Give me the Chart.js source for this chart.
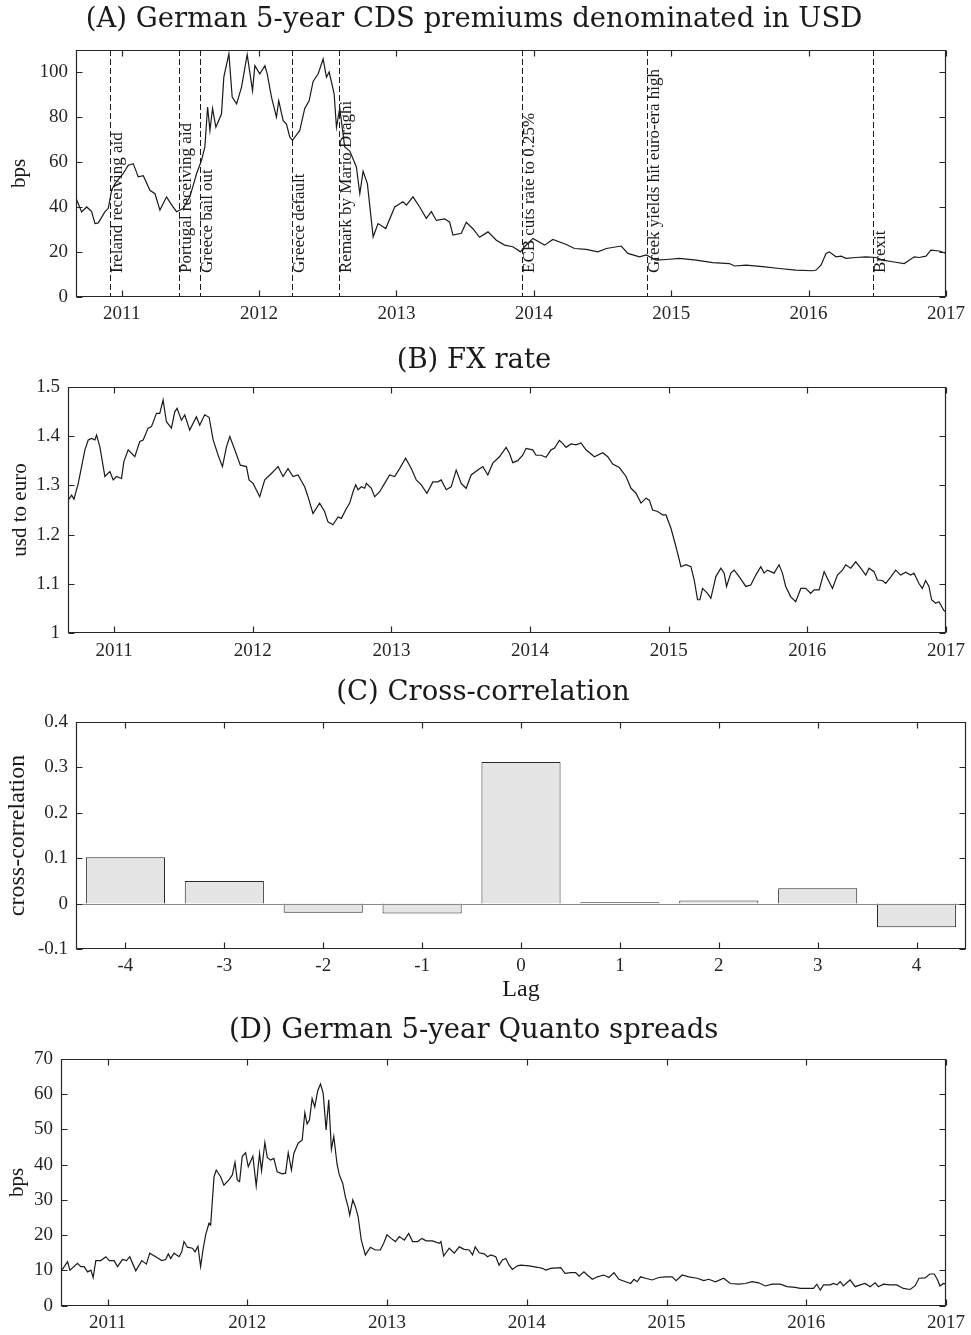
<!DOCTYPE html>
<html><head><meta charset="utf-8">
<script src="https://cdn.jsdelivr.net/npm/chart.js@4.4.1/dist/chart.umd.min.js"></script>
<style>
html,body{margin:0;padding:0;background:#fff}
body{width:971px;height:1335px;position:relative;overflow:hidden}
canvas{position:absolute;left:0}
</style></head><body>
<canvas id="cA" width="971" height="335" style="top:0px"></canvas>
<canvas id="cB" width="971" height="335" style="top:335px"></canvas>
<canvas id="cC" width="971" height="335" style="top:670px"></canvas>
<canvas id="cD" width="971" height="330" style="top:1005px"></canvas>
<script>
// ---------------- DATA ----------------
const cdsDates = [2010.667,2010.708,2010.745,2010.781,2010.805,2010.829,2010.878,2010.902,2010.926,2010.951,2011.011,2011.048,2011.084,2011.120,2011.157,2011.205,2011.242,2011.278,2011.326,2011.363,2011.399,2011.448,2011.496,2011.545,2011.581,2011.605,2011.625,2011.642,2011.661,2011.685,2011.726,2011.743,2011.780,2011.804,2011.836,2011.872,2011.913,2011.952,2011.969,2012.005,2012.042,2012.059,2012.090,2012.126,2012.143,2012.175,2012.199,2012.223,2012.243,2012.296,2012.332,2012.364,2012.393,2012.430,2012.466,2012.490,2012.510,2012.546,2012.563,2012.587,2012.623,2012.660,2012.708,2012.733,2012.757,2012.788,2012.830,2012.866,2012.922,2012.987,2013.047,2013.072,2013.120,2013.169,2013.217,2013.254,2013.290,2013.351,2013.387,2013.411,2013.472,2013.508,2013.556,2013.605,2013.666,2013.727,2013.787,2013.847,2013.903,2013.932,2013.993,2014.078,2014.138,2014.236,2014.296,2014.381,2014.466,2014.527,2014.636,2014.684,2014.769,2014.818,2014.890,2014.963,2015.060,2015.181,2015.302,2015.423,2015.460,2015.545,2015.665,2015.787,2015.908,2016.029,2016.054,2016.090,2016.127,2016.151,2016.199,2016.236,2016.272,2016.345,2016.418,2016.490,2016.538,2016.611,2016.696,2016.769,2016.805,2016.854,2016.890,2016.951,2017.000];
const cdsBps = [44.0,37.9,40.1,38.0,32.7,33.0,38.0,39.5,47.5,50.5,55.0,58.7,59.4,53.5,54.0,47.5,46.0,38.7,44.6,41.0,38.0,39.5,44.6,55.0,60.9,66.8,84.6,74.2,84.0,75.6,81.5,97.9,108.3,89.0,86.0,93.5,108.0,91.9,103.0,99.4,103.0,99.4,89.0,80.1,87.4,78.5,77.0,71.3,69.8,74.2,84.0,87.4,96.0,99.4,106.0,97.9,100.2,90.5,75.6,84.0,66.8,65.0,57.9,46.0,56.0,50.5,26.8,32.7,30.5,40.1,42.4,40.9,44.6,40.1,35.0,38.0,34.1,34.8,33.3,27.6,28.4,33.3,30.4,26.6,29.0,25.3,23.1,22.4,20.1,22.4,26.1,23.1,25.6,23.4,21.6,21.2,20.1,21.6,22.7,19.4,17.9,18.7,16.4,16.7,17.2,16.4,15.3,14.9,13.8,14.2,13.5,12.7,12.0,11.7,12.0,14.2,19.4,20.1,17.9,18.2,17.2,17.6,17.9,17.6,16.4,15.7,14.9,17.9,17.6,18.2,20.9,20.5,19.4];

const eventDates = [2010.913,2011.415,2011.567,2012.236,2012.580,2013.910,2014.820,2016.470];
const eventLabels = ['Ireland receiving aid','Portugal receiving aid','Greece bail out','Greece default','Remark by Mario Draghi','ECB cuts rate to 0.25%','Greek yields hit euro-era high','Brexit'];

const fxDates = [2010.669,2010.693,2010.710,2010.741,2010.789,2010.813,2010.837,2010.861,2010.873,2010.897,2010.933,2010.969,2010.993,2011.017,2011.053,2011.070,2011.101,2011.149,2011.185,2011.209,2011.245,2011.269,2011.305,2011.329,2011.353,2011.377,2011.413,2011.437,2011.454,2011.485,2011.509,2011.545,2011.593,2011.617,2011.653,2011.685,2011.714,2011.750,2011.781,2011.810,2011.834,2011.870,2011.910,2011.954,2011.973,2012.002,2012.050,2012.086,2012.134,2012.158,2012.182,2012.218,2012.254,2012.290,2012.326,2012.374,2012.398,2012.434,2012.482,2012.518,2012.542,2012.578,2012.615,2012.639,2012.675,2012.699,2012.723,2012.742,2012.759,2012.783,2012.807,2012.819,2012.855,2012.879,2012.915,2012.951,2012.987,2013.023,2013.059,2013.102,2013.143,2013.179,2013.215,2013.256,2013.299,2013.335,2013.359,2013.395,2013.431,2013.467,2013.503,2013.539,2013.575,2013.623,2013.659,2013.695,2013.731,2013.779,2013.827,2013.851,2013.875,2013.911,2013.947,2013.971,2014.019,2014.043,2014.079,2014.115,2014.151,2014.175,2014.211,2014.235,2014.259,2014.295,2014.331,2014.367,2014.403,2014.464,2014.524,2014.560,2014.596,2014.644,2014.692,2014.728,2014.764,2014.800,2014.836,2014.860,2014.884,2014.920,2014.956,2014.980,2015.016,2015.052,2015.088,2015.124,2015.160,2015.184,2015.208,2015.225,2015.244,2015.280,2015.304,2015.340,2015.376,2015.400,2015.417,2015.448,2015.472,2015.508,2015.556,2015.592,2015.628,2015.664,2015.688,2015.712,2015.760,2015.796,2015.820,2015.844,2015.880,2015.916,2015.953,2015.988,2016.024,2016.049,2016.085,2016.121,2016.145,2016.181,2016.217,2016.253,2016.277,2016.313,2016.349,2016.385,2016.421,2016.445,2016.481,2016.505,2016.541,2016.565,2016.601,2016.637,2016.673,2016.709,2016.745,2016.769,2016.805,2016.829,2016.853,2016.877,2016.896,2016.925,2016.949,2016.985,2017.000];
const fxRate = [1.270,1.280,1.272,1.304,1.372,1.392,1.395,1.392,1.402,1.378,1.318,1.328,1.311,1.318,1.314,1.348,1.372,1.358,1.389,1.392,1.416,1.419,1.446,1.446,1.473,1.429,1.416,1.449,1.456,1.432,1.443,1.412,1.439,1.422,1.443,1.438,1.392,1.361,1.338,1.378,1.399,1.372,1.341,1.338,1.311,1.304,1.277,1.311,1.324,1.331,1.338,1.318,1.334,1.318,1.321,1.297,1.277,1.243,1.264,1.247,1.226,1.220,1.236,1.233,1.253,1.264,1.287,1.301,1.291,1.297,1.294,1.304,1.294,1.277,1.287,1.304,1.321,1.318,1.334,1.355,1.334,1.311,1.301,1.284,1.307,1.307,1.311,1.291,1.297,1.331,1.304,1.294,1.321,1.331,1.338,1.321,1.345,1.358,1.377,1.365,1.346,1.350,1.361,1.375,1.372,1.361,1.361,1.357,1.372,1.375,1.391,1.385,1.377,1.384,1.382,1.386,1.372,1.358,1.366,1.358,1.343,1.336,1.318,1.294,1.284,1.264,1.274,1.270,1.250,1.247,1.240,1.240,1.213,1.176,1.135,1.139,1.135,1.108,1.068,1.068,1.091,1.081,1.071,1.115,1.132,1.122,1.095,1.122,1.128,1.115,1.095,1.098,1.118,1.135,1.122,1.128,1.122,1.139,1.122,1.095,1.074,1.064,1.091,1.091,1.081,1.088,1.088,1.125,1.111,1.091,1.118,1.128,1.139,1.132,1.145,1.132,1.118,1.132,1.125,1.108,1.107,1.101,1.114,1.128,1.118,1.124,1.118,1.122,1.101,1.091,1.107,1.095,1.068,1.061,1.064,1.046,1.044];

const lagLabels = ['-4','-3','-2','-1','0','1','2','3','4'];
const xcorrValues = [0.102,0.050,-0.020,-0.022,0.312,0.003,0.007,0.034,-0.052];

const quantoDates = [2010.673,2010.714,2010.731,2010.785,2010.809,2010.833,2010.857,2010.881,2010.897,2010.916,2010.952,2010.988,2011.012,2011.047,2011.071,2011.107,2011.136,2011.159,2011.202,2011.245,2011.278,2011.302,2011.345,2011.388,2011.416,2011.435,2011.452,2011.476,2011.512,2011.531,2011.547,2011.571,2011.607,2011.626,2011.647,2011.666,2011.683,2011.702,2011.726,2011.738,2011.762,2011.778,2011.809,2011.833,2011.869,2011.893,2011.912,2011.928,2011.945,2011.964,2011.988,2012.007,2012.040,2012.064,2012.088,2012.102,2012.126,2012.143,2012.166,2012.190,2012.214,2012.250,2012.274,2012.293,2012.316,2012.333,2012.364,2012.393,2012.412,2012.428,2012.445,2012.464,2012.483,2012.504,2012.524,2012.543,2012.564,2012.583,2012.602,2012.619,2012.643,2012.659,2012.683,2012.702,2012.721,2012.733,2012.755,2012.774,2012.793,2012.816,2012.845,2012.881,2012.916,2012.952,2012.976,2013.000,2013.029,2013.060,2013.088,2013.124,2013.155,2013.183,2013.219,2013.250,2013.279,2013.326,2013.374,2013.386,2013.405,2013.445,2013.481,2013.517,2013.552,2013.588,2013.612,2013.631,2013.660,2013.695,2013.719,2013.743,2013.778,2013.802,2013.826,2013.850,2013.874,2013.897,2013.933,2013.957,2014.016,2014.076,2014.112,2014.135,2014.171,2014.243,2014.274,2014.314,2014.350,2014.374,2014.409,2014.433,2014.469,2014.505,2014.552,2014.588,2014.624,2014.659,2014.707,2014.743,2014.767,2014.790,2014.814,2014.850,2014.897,2014.945,2014.993,2015.040,2015.069,2015.112,2015.159,2015.219,2015.267,2015.302,2015.350,2015.409,2015.457,2015.517,2015.564,2015.612,2015.659,2015.707,2015.755,2015.814,2015.862,2015.921,2015.957,2016.016,2016.052,2016.076,2016.100,2016.124,2016.171,2016.195,2016.219,2016.243,2016.266,2016.290,2016.314,2016.350,2016.386,2016.421,2016.457,2016.493,2016.516,2016.552,2016.600,2016.647,2016.695,2016.743,2016.778,2016.807,2016.850,2016.885,2016.916,2016.940,2016.957,2016.981,2017.000];
const quantoBps = [10.1,12.5,10.1,12.0,11.1,11.1,9.6,10.1,8.0,12.8,12.8,13.9,12.8,12.8,11.1,13.1,12.8,13.9,9.9,12.8,11.8,14.9,13.9,12.8,13.1,14.7,13.4,14.9,13.9,15.3,18.2,16.6,16.3,15.3,16.9,11.1,15.8,20.1,23.4,22.9,36.6,38.5,36.6,34.2,35.7,37.1,40.7,35.7,35.2,42.4,43.4,39.4,42.4,34.0,43.2,38.3,46.3,42.1,41.3,41.8,38.0,37.4,37.6,43.4,38.5,43.2,46.1,47.0,54.8,51.6,52.7,58.8,56.4,61.0,62.9,60.3,49.9,58.4,44.4,48.0,40.0,37.1,34.7,30.9,28.1,25.7,30.0,28.1,25.3,18.6,14.4,16.6,15.8,15.8,17.7,20.1,19.1,18.2,19.6,18.6,20.5,18.2,18.2,19.1,18.4,18.4,17.7,18.2,14.1,16.3,14.9,16.7,16.0,15.8,14.4,16.7,15.0,14.7,13.9,14.4,13.9,11.5,13.0,13.4,11.5,10.3,11.3,11.5,11.3,10.9,10.6,10.1,10.6,10.8,9.2,9.4,9.4,8.4,9.6,8.7,7.5,8.2,8.7,8.0,9.4,7.5,6.8,6.3,7.5,6.8,8.2,7.8,7.3,8.0,8.2,8.2,7.1,8.7,8.2,7.8,7.1,7.5,6.8,7.8,6.3,6.1,6.3,6.8,6.5,5.6,6.1,6.1,5.4,5.2,4.9,4.9,4.9,6.1,4.4,5.9,5.9,6.3,5.9,6.8,5.6,6.5,7.3,5.4,5.9,6.3,5.4,6.5,5.4,6.1,5.9,5.9,4.9,4.6,5.6,7.8,7.9,9.0,9.0,7.3,5.6,6.3,6.1];

// ---------------- STYLE / HELPERS ----------------
Chart.defaults.font.family = '"Liberation Serif", serif';
Chart.defaults.font.size = 19;
Chart.defaults.color = '#262626';

const INK = '#1a1a1a';
const framePlugin = {
  id: 'frame',
  afterDatasetsDraw(chart) {
    const {ctx, chartArea: a, scales: {x, y}} = chart;
    const L = 6;
    const l = Math.round(a.left) + 0.5, r = Math.round(a.right) - 0.5,
          t = Math.round(a.top) + 0.5, b = Math.round(a.bottom) - 0.5;
    ctx.save();
    ctx.strokeStyle = '#262626'; ctx.lineWidth = 1.2; ctx.setLineDash([]);
    ctx.beginPath();
    ctx.rect(l, t, r - l, b - t);
    x.ticks.forEach((tk, i) => {
      const p = Math.round(x.getPixelForTick(i)) + 0.5;
      ctx.moveTo(p, b); ctx.lineTo(p, b - L);
      ctx.moveTo(p, t); ctx.lineTo(p, t + L);
    });
    y.ticks.forEach((tk, i) => {
      const p = Math.round(y.getPixelForTick(i)) + 0.5;
      ctx.moveTo(l, p); ctx.lineTo(l + L, p);
      ctx.moveTo(r, p); ctx.lineTo(r - L, p);
    });
    ctx.stroke();
    ctx.restore();
  }
};

const eventPlugin = {
  id: 'events',
  afterDatasetsDraw(chart) {
    const {ctx, chartArea: a, scales: {x}} = chart;
    ctx.save();
    eventDates.forEach((d, i) => {
      const px = Math.round(x.getPixelForValue(d)) + 0.5;
      ctx.strokeStyle = INK; ctx.lineWidth = 1; ctx.setLineDash([6, 3]);
      ctx.beginPath(); ctx.moveTo(px, a.top); ctx.lineTo(px, a.bottom); ctx.stroke();
      ctx.setLineDash([]);
      ctx.save();
      ctx.translate(px - 1, a.bottom - 24);
      ctx.rotate(-Math.PI / 2);
      ctx.font = '17px "Liberation Serif"';
      ctx.fillStyle = INK; ctx.textAlign = 'left'; ctx.textBaseline = 'top';
      ctx.fillText(eventLabels[i], 0, 0);
      ctx.restore();
    });
    ctx.restore();
  }
};

const baselinePlugin = {
  id: 'baseline',
  afterDatasetsDraw(chart) {
    const {ctx, chartArea: a, scales: {y}} = chart;
    const p = Math.round(y.getPixelForValue(0)) + 0.5;
    ctx.save(); ctx.strokeStyle = '#8a8a8a'; ctx.lineWidth = 1;
    ctx.beginPath(); ctx.moveTo(a.left, p); ctx.lineTo(a.right, p); ctx.stroke();
    ctx.restore();
  }
};

function titleOpts(text, top, bottom) {
  return {display: true, text, color: INK,
    font: {family: '"DejaVu Serif", serif', size: 27.5, weight: 'normal', lineHeight: 1.2},
    padding: {top, bottom}};
}

function lineChart(id, dates, vals, cfg) {
  return new Chart(document.getElementById(id), {
    type: 'line',
    data: {datasets: [{data: dates.map((d, i) => ({x: d, y: vals[i]})),
      borderColor: INK, borderWidth: 1.2, pointRadius: 0, tension: 0, fill: false}]},
    options: {
      responsive: false, animation: false, devicePixelRatio: 1,
      layout: {padding: {left: 0, right: cfg.padR, top: 0, bottom: 0}},
      plugins: {legend: {display: false}, tooltip: {enabled: false},
        title: titleOpts(cfg.title, cfg.tTop, cfg.tBot)},
      scales: {
        x: {type: 'linear', min: 2010.667, max: 2017,
          grid: {display: false, drawTicks: false}, border: {display: false},
          ticks: {stepSize: 1, includeBounds: false, padding: 6, maxRotation: 0, autoSkip: false,
            callback: v => String(v)},
          afterFit: s => { s.height = cfg.xH; }},
        y: {min: cfg.ymin, max: cfg.ymax,
          grid: {display: false, drawTicks: false}, border: {display: false},
          ticks: {stepSize: cfg.ystep, includeBounds: false, padding: 8,
            callback: v => String(Math.round(v * 10) / 10)},
          title: {display: true, text: cfg.ytitle, color: INK, font: {size: 21, lineHeight: 1.2},
            padding: {top: cfg.yTitlePad, bottom: 0}},
          afterFit: s => { s.width = cfg.yW; }}
      }
    },
    plugins: [framePlugin].concat(cfg.extra || [])
  });
}

// (A)
lineChart('cA', cdsDates, cdsBps, {
  title: '(A) German 5-year CDS premiums denominated in USD', tTop: 3, tBot: 14,
  padR: 23, xH: 38, yW: 76, ymin: 0, ymax: 110, ystep: 20, ytitle: 'bps', yTitlePad: 7,
  extra: [eventPlugin]
});
// (B)
lineChart('cB', fxDates, fxRate, {
  title: '(B) FX rate', tTop: 9, tBot: 9.7,
  padR: 23, xH: 36.7, yW: 68, ymin: 1, ymax: 1.5, ystep: 0.1, ytitle: 'usd to euro', yTitlePad: 8
});
// (C)
new Chart(document.getElementById('cC'), {
  type: 'bar',
  data: {labels: lagLabels, datasets: [{data: xcorrValues, backgroundColor: '#e5e5e5',
    borderColor: '#2b2b2b', borderWidth: 1, barPercentage: 0.8, categoryPercentage: 1}]},
  options: {
    responsive: false, animation: false, devicePixelRatio: 1,
    layout: {padding: {left: 0, right: 5, top: 0, bottom: 0}},
    plugins: {legend: {display: false}, tooltip: {enabled: false},
      title: titleOpts('(C) Cross-correlation', 6.5, 12.5)},
    scales: {
      x: {grid: {display: false, drawTicks: false}, border: {display: false}, offset: true,
        ticks: {padding: 6, maxRotation: 0},
        title: {display: true, text: 'Lag', color: INK, font: {size: 24, lineHeight: 1.2}, padding: {top: 0, bottom: 0.6}},
        afterFit: s => { s.height = 56; }},
      y: {min: -0.1, max: 0.4,
        grid: {display: false, drawTicks: false}, border: {display: false},
        ticks: {stepSize: 0.1, padding: 8, callback: v => String(Math.round(v * 10) / 10)},
        title: {display: true, text: 'cross-correlation', color: INK, font: {size: 24, lineHeight: 1.2},
          padding: {top: 3.6, bottom: 0}},
        afterFit: s => { s.width = 76; }}
    }
  },
  plugins: [baselinePlugin, framePlugin]
});
// (D)
lineChart('cD', quantoDates, quantoBps, {
  title: '(D) German 5-year Quanto spreads', tTop: 9.5, tBot: 11.5,
  padR: 23.7, xH: 29.3, yW: 61, ymin: 0, ymax: 70, ystep: 10, ytitle: 'bps', yTitlePad: 5
});
</script>
</body></html>
